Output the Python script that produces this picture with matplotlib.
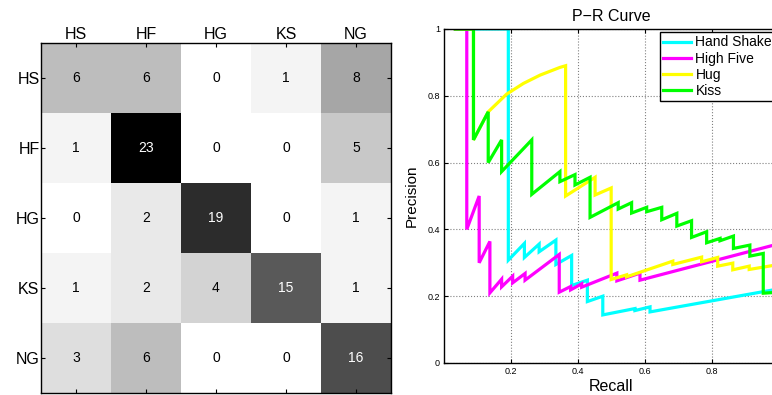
import numpy as np
import matplotlib
matplotlib.use("Agg")
import matplotlib.pyplot as plt

plt.rcParams['font.family'] = ['Liberation Sans', 'DejaVu Sans']

# confusion matrix (rows = true class, cols = predicted)
classes = ["HS", "HF", "HG", "KS", "NG"]
conf = np.array([
    [6, 6, 0, 1, 8],
    [1, 23, 0, 0, 5],
    [0, 2, 19, 0, 1],
    [1, 2, 4, 15, 1],
    [3, 6, 0, 0, 16],
])

# precision-recall curves, vertices
hs_recall = [0.034, 0.192, 0.192, 0.24, 0.24, 0.284, 0.284, 0.334, 0.334, 0.381, 0.381,
             0.428, 0.428, 0.474, 0.474, 0.57, 0.57, 0.615, 0.615, 1.0]
hs_prec = [1, 1, 0.308, 0.358, 0.316, 0.356, 0.333, 0.368, 0.295, 0.322, 0.232,
           0.248, 0.184, 0.2, 0.144, 0.163, 0.157, 0.168, 0.153, 0.222]

hf_recall = [0.034, 0.068, 0.068, 0.105, 0.105, 0.137, 0.137, 0.172, 0.172, 0.205, 0.205,
             0.242, 0.242, 0.344, 0.344, 0.378, 0.378, 0.411, 0.411, 0.516, 0.516,
             0.585, 0.585, 1.0]
hf_prec = [1, 1, 0.4, 0.5, 0.3, 0.364, 0.21, 0.251, 0.228, 0.26, 0.24,
           0.268, 0.248, 0.325, 0.212, 0.229, 0.219, 0.237, 0.227, 0.269, 0.246,
           0.269, 0.248, 0.357]

hug_recall = [0.034, 0.088, 0.088, 0.132, 0.187, 0.237, 0.287, 0.346, 0.363, 0.363,
              0.451, 0.451, 0.499, 0.499, 0.545, 0.545, 0.683, 0.683, 0.769, 0.769,
              0.817, 0.817, 0.862, 0.862, 0.911, 0.911, 1.0]
hug_prec = [1, 1, 0.668, 0.752, 0.805, 0.837, 0.862, 0.885, 0.89, 0.5,
            0.556, 0.503, 0.524, 0.25, 0.264, 0.258, 0.305, 0.295, 0.317, 0.303,
            0.316, 0.29, 0.299, 0.279, 0.29, 0.28, 0.295]

kiss_recall = [0.034, 0.088, 0.088, 0.132, 0.132, 0.172, 0.172, 0.262, 0.262, 0.346,
               0.346, 0.391, 0.391, 0.436, 0.436, 0.52, 0.52, 0.56, 0.56, 0.605,
               0.605, 0.65, 0.65, 0.695, 0.695, 0.739, 0.739, 0.784, 0.784, 0.824,
               0.824, 0.864, 0.864, 0.913, 0.913, 0.953, 0.953, 1.0]
kiss_prec = [1, 1, 0.668, 0.752, 0.6, 0.668, 0.573, 0.668, 0.505, 0.573,
             0.543, 0.564, 0.533, 0.556, 0.436, 0.48, 0.461, 0.48, 0.449, 0.466,
             0.453, 0.466, 0.429, 0.448, 0.41, 0.426, 0.376, 0.393, 0.36, 0.373,
             0.366, 0.38, 0.343, 0.353, 0.32, 0.328, 0.209, 0.212]

curve_names = ["Hand Shake", "High Five", "Hug", "Kiss"]
curve_colors = ["#00ffff", "#ff00ff", "#ffff00", "#00ff00"]

W, H = 772, 395
fig = plt.figure(figsize=(W / 100, H / 100), dpi=100)

# --- confusion matrix ---
ax1 = fig.add_axes([41 / W, 1 - 393 / H, 350 / W, 350 / H])
ax1.imshow(conf, cmap="gray_r", vmin=0, vmax=conf.max(), aspect="auto",
           interpolation="nearest")
for i in range(conf.shape[0]):
    for j in range(conf.shape[1]):
        v = conf[i, j]
        ax1.text(j, i, str(v), ha="center", va="center", fontsize=10,
                 color="white" if v > 12 else "black")
ax1.set_xticks(range(len(classes)))
ax1.set_yticks(range(len(classes)))
ax1.set_xticklabels(classes, fontsize=11.5)
ax1.set_yticklabels(classes, fontsize=11.5)
ax1.tick_params(direction="in", length=3, top=True, right=True, bottom=True,
                labeltop=True, labelbottom=False, pad=1)
for s in ax1.spines.values():
    s.set_linewidth(1)

# --- P-R curves ---
ax2 = fig.add_axes([444 / W, 1 - 363 / H, 335 / W, 334 / H])
curves = [(hs_recall, hs_prec), (hf_recall, hf_prec),
          (hug_recall, hug_prec), (kiss_recall, kiss_prec)]
for (r, p), name, c in zip(curves, curve_names, curve_colors):
    ax2.plot(r, p, color=c, lw=2.3, label=name, solid_joinstyle="miter")
ax2.set_xlim(0, 1)
ax2.set_ylim(0, 1)
ax2.set_xticks([0.2, 0.4, 0.6, 0.8])
ax2.set_xticklabels(["0.2", "0.4", "0.6", "0.8"])
ax2.set_yticks([0, 0.2, 0.4, 0.6, 0.8, 1])
ax2.set_yticklabels(["0", "0.2", "0.4", "0.6", "0.8", "1"])
ax2.tick_params(direction="in", length=3, labelsize=6.5, pad=3, top=True, right=True)
ax2.grid(True, linestyle=":", color="#808080", lw=0.8)
ax2.set_title("P\u2212R Curve", fontsize=11.5, pad=6)
ax2.set_xlabel("Recall", fontsize=11.5, labelpad=2)
ax2.set_ylabel("Precision", fontsize=11, labelpad=6)
for s in ax2.spines.values():
    s.set_linewidth(1)

leg = ax2.legend(loc="upper left", bbox_to_anchor=(660 / W, 1 - 32 / H),
                 bbox_transform=fig.transFigure, borderaxespad=0, fontsize=10,
                 handlelength=2.0, handletextpad=0.3, labelspacing=0.15,
                 borderpad=0.25, fancybox=False, framealpha=1, edgecolor="black")
leg.get_frame().set_linewidth(1)

fig.savefig("out.png", dpi=100)
